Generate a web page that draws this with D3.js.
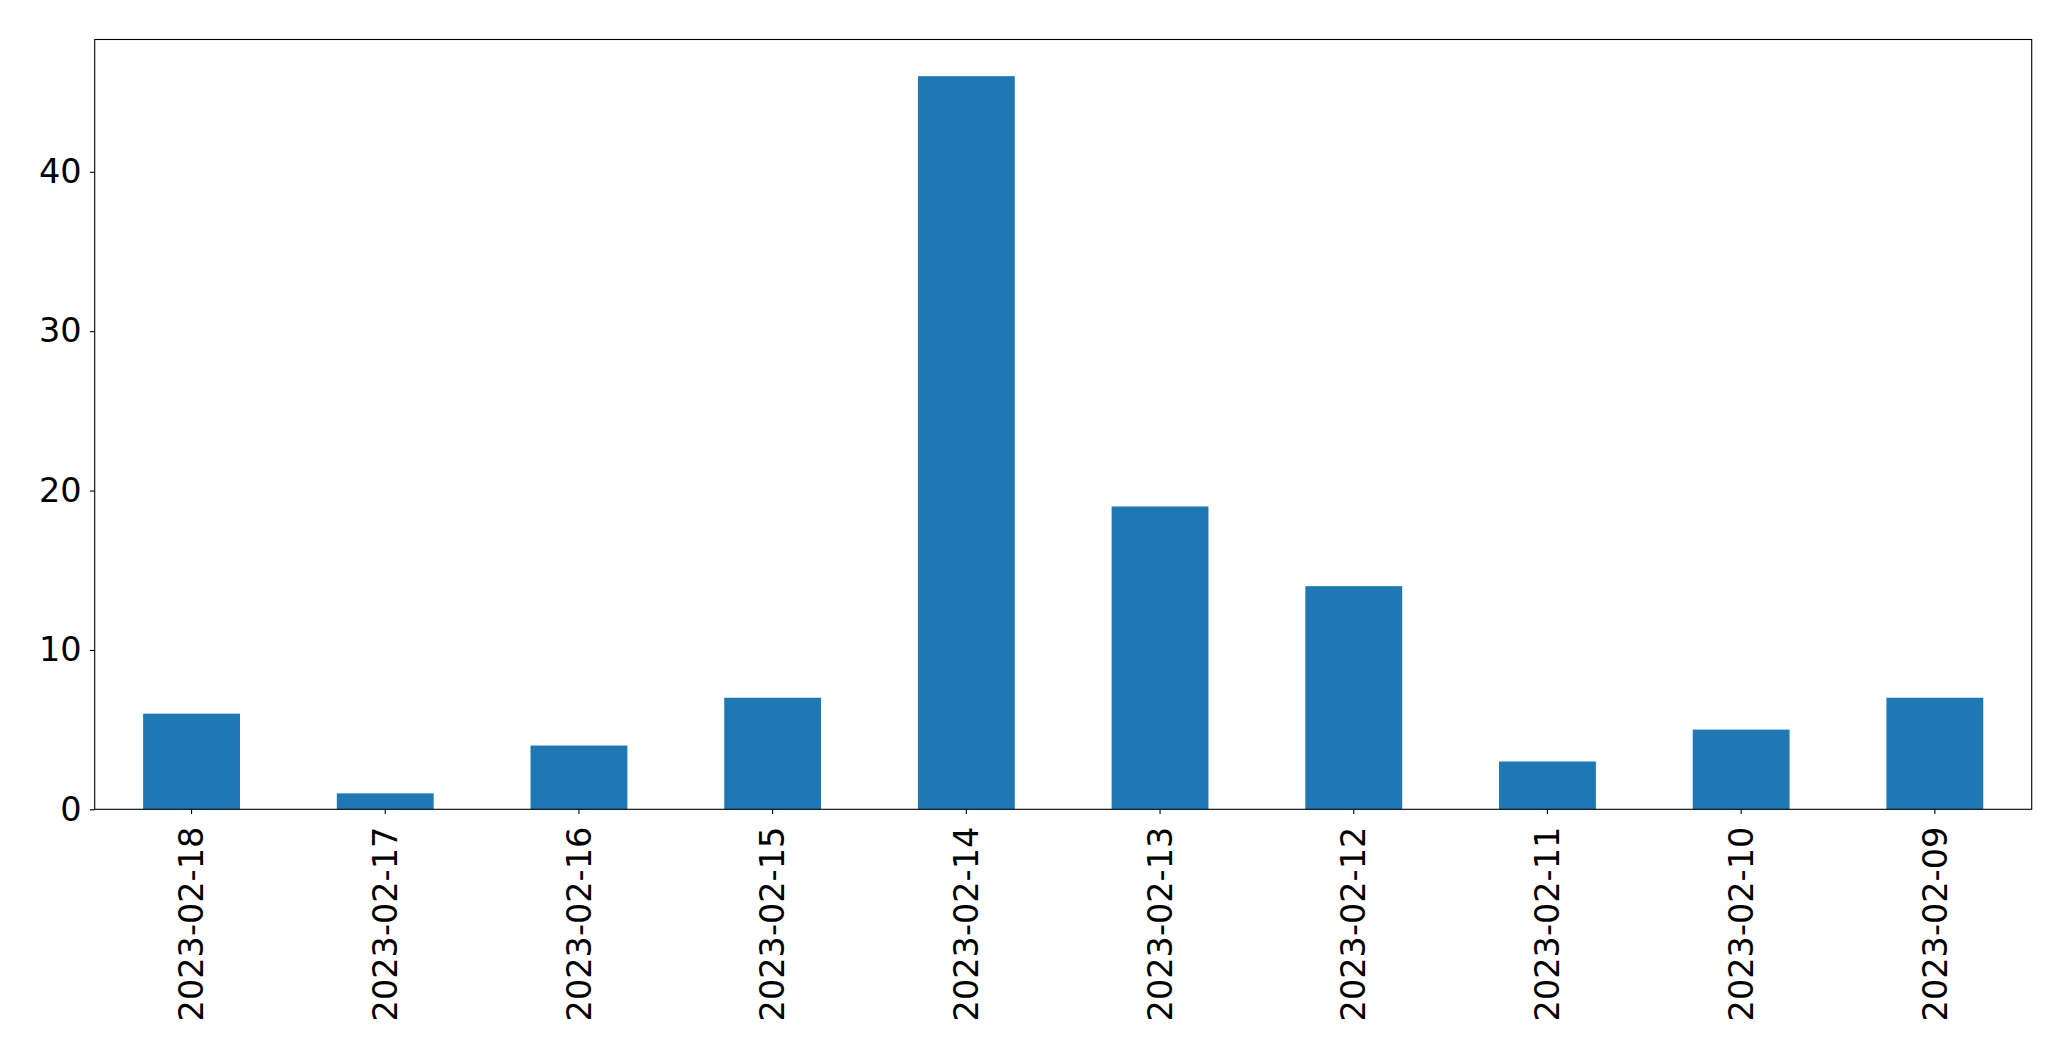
<!DOCTYPE html>
<html><head><meta charset="utf-8">
<script src="https://cdn.jsdelivr.net/npm/d3@7"></script>
<style>body{margin:0;background:#fff}svg{display:block}</style>
</head><body>
<script>
const categories = ["2023-02-18","2023-02-17","2023-02-16","2023-02-15","2023-02-14","2023-02-13","2023-02-12","2023-02-11","2023-02-10","2023-02-09"];
const values = [6,1,4,7,46,19,14,3,5,7];
const yTicks = [0,10,20,30,40];

const W = 2071, H = 1061;
const m = {left:94.7, right:2071-2031.7, top:39.5, bottom:1061-809.3};
const iw = W - m.left - m.right, ih = H - m.top - m.bottom;
const svg = d3.select("body").append("svg").attr("width",W).attr("height",H);
const g = svg.append("g").attr("transform",`translate(${m.left},${m.top})`);

const x = d3.scaleBand().domain(categories).range([0,iw]).paddingInner(0.5).paddingOuter(0.25);
const y = d3.scaleLinear().domain([0, d3.max(values)*1.05]).range([ih,0]);

g.selectAll("rect.bar").data(values).enter().append("rect")
  .attr("class","bar")
  .attr("x",(d,i)=>x(categories[i]))
  .attr("width",x.bandwidth())
  .attr("y",d=>y(d))
  .attr("height",d=>ih-y(d))
  .attr("fill","#1f77b4");

const font = "DejaVu Sans";
const yAxis = g.append("g").call(d3.axisLeft(y).tickValues(yTicks).tickSize(4.8).tickPadding(8.3).tickFormat(d3.format("d")));
yAxis.select(".domain").remove();
yAxis.selectAll("text").attr("font-family",font).attr("font-size",33.5).attr("fill","#000");
yAxis.selectAll("line").attr("stroke","#000").attr("stroke-width",1.1);

const xAxis = g.append("g").attr("transform",`translate(0,${ih})`).call(d3.axisBottom(x).tickSize(4.8).tickPadding(0));
xAxis.select(".domain").remove();
xAxis.selectAll("line").attr("stroke","#000").attr("stroke-width",1.1);
xAxis.selectAll("text")
  .attr("font-family",font).attr("font-size",33.5).attr("fill","#000")
  .attr("text-anchor","end")
  .attr("transform","rotate(-90)")
  .attr("x",-17.4).attr("y",0).attr("dy","0.35em");

g.append("rect").attr("x",0).attr("y",0).attr("width",iw).attr("height",ih)
  .attr("fill","none").attr("stroke","#000").attr("stroke-width",1.1);
</script>
</body></html>
